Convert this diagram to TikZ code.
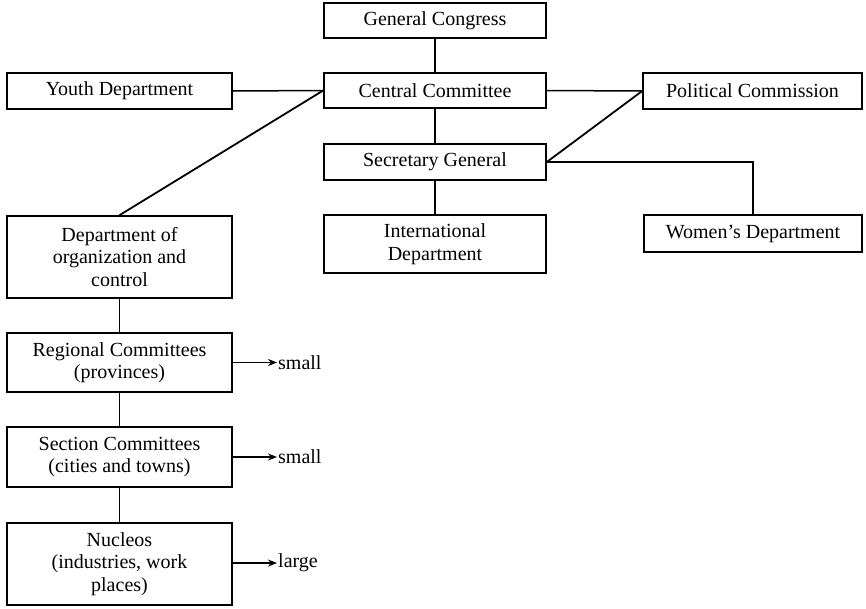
\documentclass[tikz,border=0pt]{standalone}
\usepackage{fontspec}
\setmainfont{Liberation Serif}
\usetikzlibrary{arrows.meta}
\begin{document}
\begin{tikzpicture}[x=1pt,y=-1pt,
  box/.style={draw,line width=1.6pt,inner sep=0pt,align=center,
    font=\fontsize{20}{22.5}\selectfont,anchor=center},
  conn/.style={line width=1.5pt},
  diag/.style={line width=1.8pt},
  outarrow/.style={line width=1.5pt,-{Stealth[length=9pt,width=7pt]}},
  lbl/.style={anchor=west,inner sep=1pt,font=\fontsize{20}{22.5}\selectfont}]
\useasboundingbox (0,0) rectangle (866,608);
% central column
\node[box,minimum width=222pt,minimum height=35pt] (gc) at (435,20.5) {General Congress};
\node[box,minimum width=222pt,minimum height=35pt] (cc) at (435,90.5) {Central Committee};
\node[box,minimum width=222pt,minimum height=36pt] (sg) at (435,162) {Secretary General};
\node[box,minimum width=222pt,minimum height=58pt] (intl) at (435,244) {International\\Department};
% sides
\node[box,minimum width=225pt,minimum height=36pt] (youth) at (119.5,91) {Youth Department};
\node[box,minimum width=219pt,minimum height=36pt] (pc) at (752.5,91) {Political Commission};
\node[box,minimum width=218pt,minimum height=37pt] (women) at (753,233.5) {Women's Department};
% left column
\node[box,minimum width=225pt,minimum height=82pt] (dept) at (119.5,257) {Department of\\organization and\\control};
\node[box,minimum width=225pt,minimum height=59pt] (reg) at (119.5,362.5) {Regional Committees\\(provinces)};
\node[box,minimum width=225pt,minimum height=60pt] (sec) at (119.5,457) {Section Committees\\(cities and towns)};
\node[box,minimum width=225pt,minimum height=82pt] (nuc) at (119.5,564) {Nucleos\\(industries, work\\places)};
% connectors
\draw[conn] (gc) -- (cc);
\draw[conn] (cc) -- (sg);
\draw[conn] (sg) -- (intl);
\draw[conn] (youth.east) -- (cc.west);
\draw[conn] (cc.east) -- (pc.west);
\draw[diag] (dept.north) -- (cc.west);
\draw[diag] (sg.east) -- (pc.west);
\draw[conn] (sg.east) -| (women.north);
\draw[conn] (dept) -- (reg);
\draw[conn] (reg) -- (sec);
\draw[conn] (sec) -- (nuc);
% outputs
\coordinate (r1) at (277,362.5);
\coordinate (r2) at (277,457);
\coordinate (r3) at (277,563);
\draw[outarrow] (reg.east |- r1) -- (r1);
\draw[outarrow] (sec.east |- r2) -- (r2);
\draw[outarrow] (nuc.east |- r3) -- (r3);
\node[lbl] (s1) at (r1) {small};
\node[lbl] (s2) at (r2) {small};
\node[lbl] (s3) at (r3) {large};
\end{tikzpicture}
\end{document}
